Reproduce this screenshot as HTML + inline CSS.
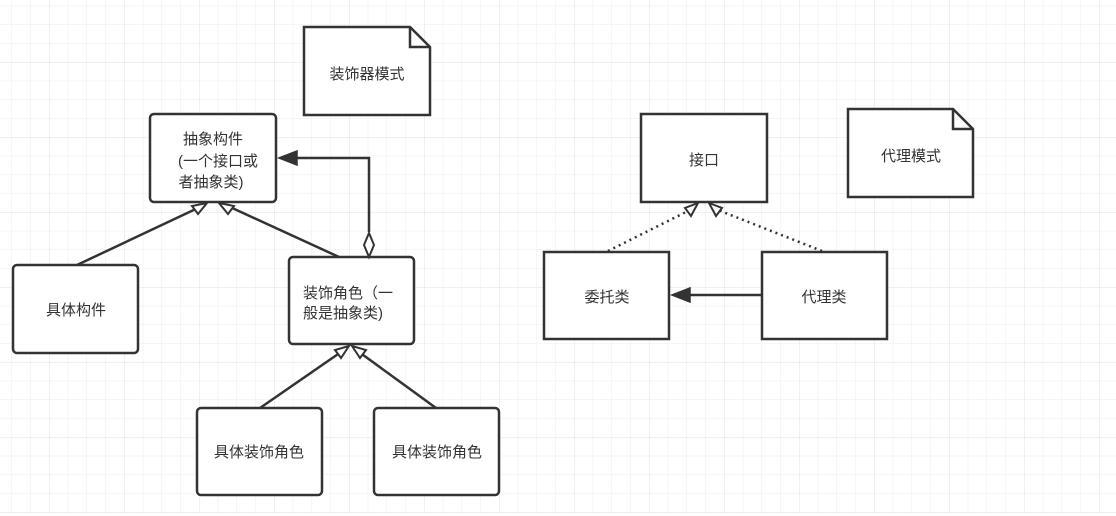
<!DOCTYPE html>
<html><head><meta charset="utf-8"><style>
html,body{margin:0;padding:0;background:#fff;}
svg{display:block;}
text{font-family:"Liberation Sans","Noto Sans CJK SC",sans-serif;font-size:15px;fill:#333;}
</style></head><body>
<svg width="1116" height="516" viewBox="0 0 1116 516" xmlns="http://www.w3.org/2000/svg">
<defs>
<pattern id="minor" x="11.5" y="5.75" width="18.75" height="18.75" patternUnits="userSpaceOnUse">
<path d="M0 0V18.75M0 0H18.75" stroke="#ececec" stroke-width="1" fill="none"/>
</pattern>
<pattern id="major" x="49" y="62" width="75" height="75" patternUnits="userSpaceOnUse">
<path d="M0 0V75M0 0H75" stroke="#e0e0e0" stroke-width="1" fill="none"/>
</pattern>
</defs>
<rect width="1116" height="513" fill="url(#minor)"/>
<rect width="1116" height="513" fill="url(#major)"/>
<g stroke="#333" stroke-width="2.5" fill="#fff">
<path d="M304 27H410L430 47V115H304Z"/>
<path d="M410 27V47H430" fill="none"/>
<path d="M848 109H953L973 129V197H848Z"/>
<path d="M953 109V129H973" fill="none"/>
<rect x="150" y="114" width="126" height="88" rx="4"/>
<rect x="13" y="265" width="125" height="88" rx="4"/>
<rect x="289" y="257" width="125" height="87" rx="4"/>
<rect x="197" y="408" width="125" height="87" rx="4"/>
<rect x="374" y="408" width="125" height="87" rx="4"/>
<rect x="641" y="114" width="126" height="88"/>
<rect x="544" y="252" width="125" height="87"/>
<rect x="762" y="252" width="125" height="87"/>
</g>
<g stroke="#333" stroke-width="2.5" fill="none">
<line x1="77" y1="265" x2="200" y2="207"/>
<line x1="339" y1="257" x2="230" y2="207"/>
<polyline points="369,232 369,158 297,158"/>
<line x1="260" y1="408" x2="341" y2="352"/>
<line x1="436" y1="408" x2="359" y2="352"/>
<line x1="762" y1="295" x2="690" y2="295"/>
</g>
<g stroke="#333" stroke-width="2.5" fill="none" stroke-dasharray="2,4">
<line x1="608" y1="251" x2="690" y2="210"/>
<line x1="822" y1="251" x2="718" y2="210"/>
</g>
<g stroke="#333" stroke-width="2" fill="#fff">
<polygon points="207,203 192,206 198,214"/>
<polygon points="219,203 234,206 228,214"/>
<polygon points="349,346 335,350 341,358"/>
<polygon points="352,346 366,350 360,358"/>
<polygon points="698,203 685,208 691,216"/>
<polygon points="709,203 722,208 716,216"/>
<polygon points="369,233 364,245 369,257 374,245"/>
</g>
<g fill="#333" stroke="#333" stroke-width="1.5">
<polygon points="279,158 297,151 297,165"/>
<polygon points="672,295 690,288 690,302"/>
</g>
<text x="367" y="79" text-anchor="middle">装饰器模式</text>
<text x="911" y="161" text-anchor="middle">代理模式</text>
<text x="213" y="144" text-anchor="middle">抽象构件</text>
<text x="218" y="166" text-anchor="middle">(一个接口或</text>
<text x="211" y="187" text-anchor="middle">者抽象类)</text>
<text x="76" y="315" text-anchor="middle">具体构件</text>
<text x="303" y="298">装饰角色（一</text>
<text x="303" y="318">般是抽象类)</text>
<text x="259" y="457" text-anchor="middle">具体装饰角色</text>
<text x="437" y="457" text-anchor="middle">具体装饰角色</text>
<text x="704" y="165" text-anchor="middle">接口</text>
<text x="607" y="302" text-anchor="middle">委托类</text>
<text x="824" y="302" text-anchor="middle">代理类</text>
</svg>
</body></html>
